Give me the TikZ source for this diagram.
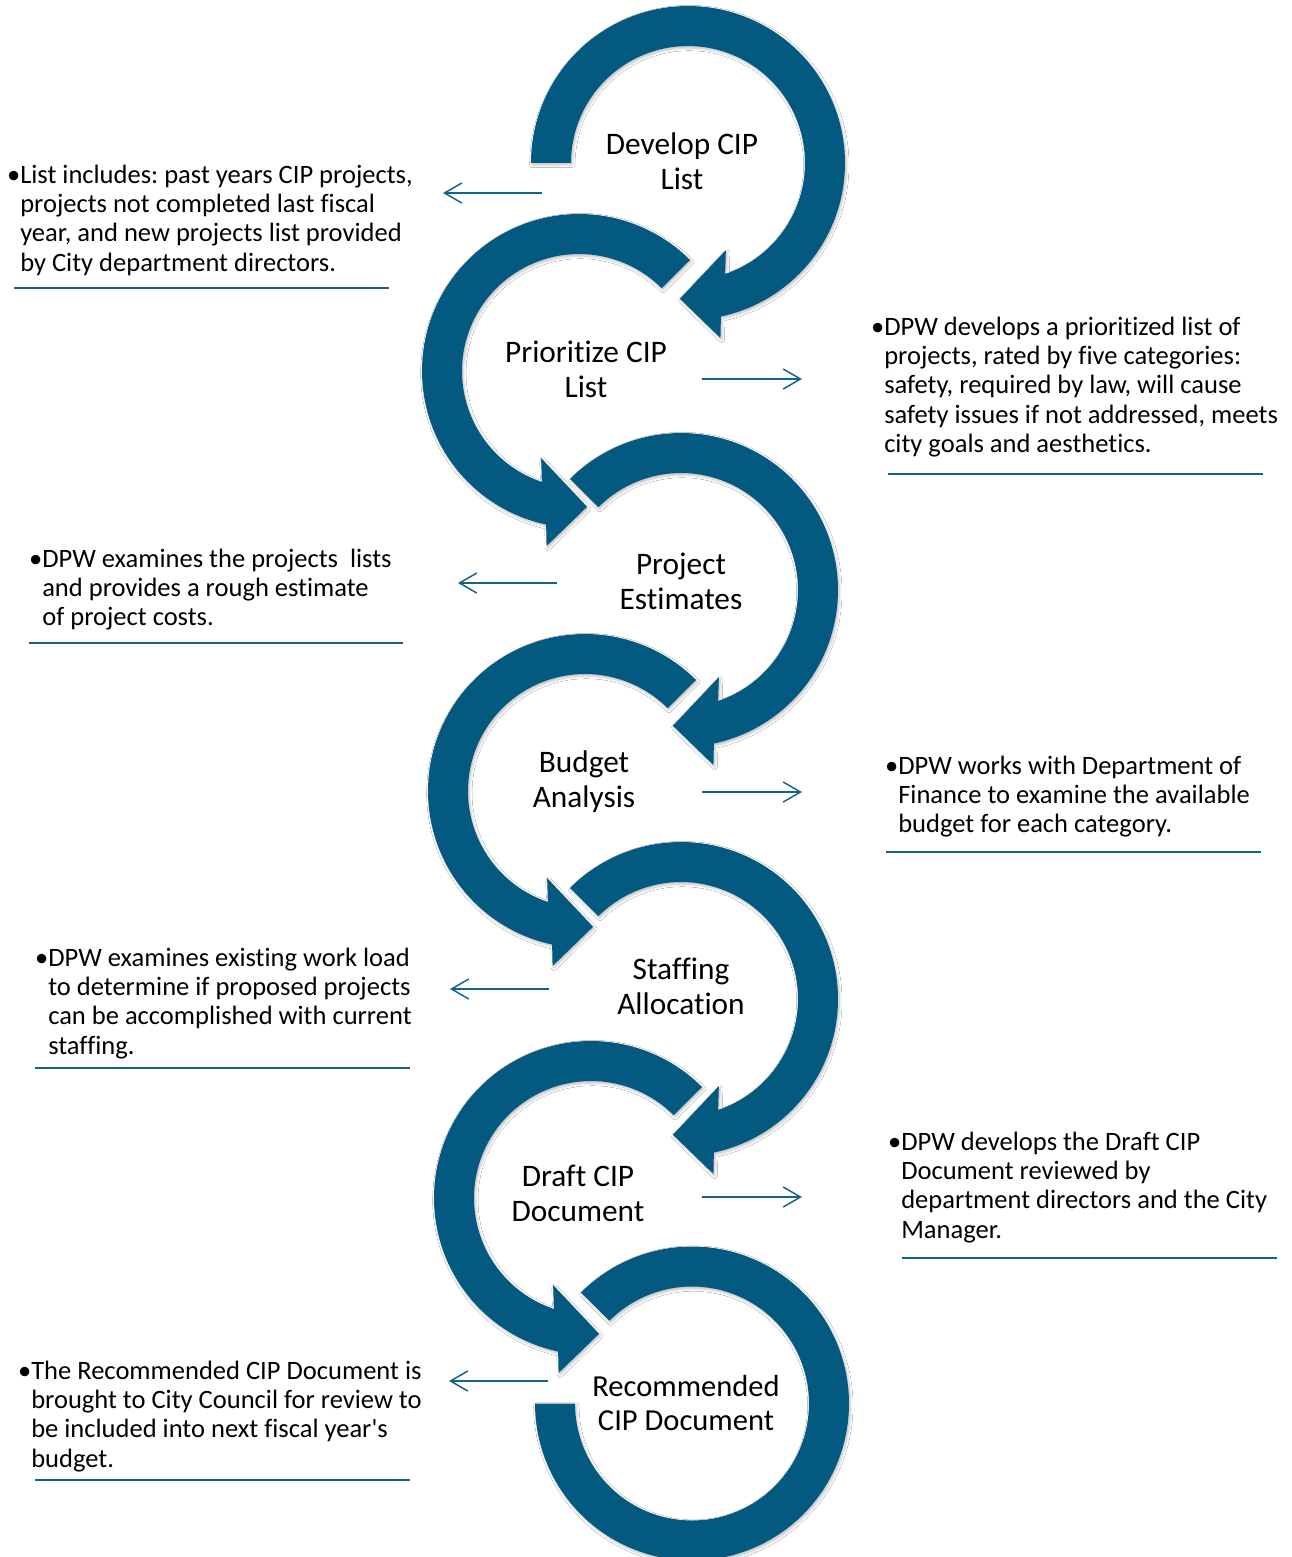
\documentclass[tikz,border=0pt]{standalone}
\usepackage{fontspec}
\setmainfont{Carlito}[Ligatures={TeX,NoCommon}]
\frenchspacing
\usetikzlibrary{arrows.meta,shadows.blur}
\definecolor{ringblue}{RGB}{3,89,128}
\definecolor{lineblue}{RGB}{20,98,138}
\begin{document}
\begin{tikzpicture}[x=0.75pt,y=-0.75pt,
  ringshape/.style={fill=ringblue, blur shadow={shadow xshift=1pt, shadow yshift=-1.5pt, shadow blur radius=2pt, shadow opacity=25}},
  conn/.style={draw=lineblue, line width=1.1pt, -{Straight Barb[length=13pt,width=15pt]}},
  underl/.style={draw=lineblue, line width=1.5pt},
  sidetext/.style={anchor=base west, inner sep=0pt, font=\fontsize{19.9}{22.1}\selectfont},
  stagetext/.style={inner sep=0pt, align=center, font=\fontsize{23.5}{26.2}\selectfont}]
\fill[white] (0,0) rectangle (1292,1557);
\path[use as bounding box] (0,0) rectangle (1292,1557);

% ---- ring 1 (right, from left flat end, clockwise)
\begin{scope}[shift={(688,163)}]
\fill[ringshape] plot[variable=\t,domain=0:1,samples=110] ({157*cos(180+258*\t)},{157*sin(180+258*\t)})
  -- (439.5:178) -- (453.4:136) -- (426.5:95)
  -- plot[variable=\t,domain=0:1,samples=110] ({117*cos(431.5-251.5*\t)},{117*sin(431.5-251.5*\t)}) -- cycle;
\end{scope}
% ---- ring 2 (left)
\begin{scope}[shift={(579,371)}]
\fill[ringshape] plot[variable=\t,domain=0:1,samples=110] ({157*cos(-45-213*\t)},{157*sin(-45-213*\t)})
  -- (-259.5:178) -- (-273.4:136) -- (-246.5:95)
  -- plot[variable=\t,domain=0:1,samples=110] ({117*cos(-251.5+206.5*\t)},{117*sin(-251.5+206.5*\t)}) -- cycle;
\end{scope}
% ---- ring 3 (right)
\begin{scope}[shift={(681,590)}]
\fill[ringshape] plot[variable=\t,domain=0:1,samples=110] ({157*cos(225+213*\t)},{157*sin(225+213*\t)})
  -- (439.5:178) -- (453.4:136) -- (426.5:95)
  -- plot[variable=\t,domain=0:1,samples=110] ({117*cos(431.5-206.5*\t)},{117*sin(431.5-206.5*\t)}) -- cycle;
\end{scope}
% ---- ring 4 (left)
\begin{scope}[shift={(585,791)}]
\fill[ringshape] plot[variable=\t,domain=0:1,samples=110] ({157*cos(-45-213*\t)},{157*sin(-45-213*\t)})
  -- (-259.5:178) -- (-273.4:136) -- (-246.5:95)
  -- plot[variable=\t,domain=0:1,samples=110] ({117*cos(-251.5+206.5*\t)},{117*sin(-251.5+206.5*\t)}) -- cycle;
\end{scope}
% ---- ring 5 (right)
\begin{scope}[shift={(681,999)}]
\fill[ringshape] plot[variable=\t,domain=0:1,samples=110] ({157*cos(225+213*\t)},{157*sin(225+213*\t)})
  -- (439.5:178) -- (453.4:136) -- (426.5:95)
  -- plot[variable=\t,domain=0:1,samples=110] ({117*cos(431.5-206.5*\t)},{117*sin(431.5-206.5*\t)}) -- cycle;
\end{scope}
% ---- ring 6 (left)
\begin{scope}[shift={(591,1198)}]
\fill[ringshape] plot[variable=\t,domain=0:1,samples=110] ({157*cos(-45-213*\t)},{157*sin(-45-213*\t)})
  -- (-259.5:178) -- (-273.4:136) -- (-246.5:95)
  -- plot[variable=\t,domain=0:1,samples=110] ({117*cos(-251.5+206.5*\t)},{117*sin(-251.5+206.5*\t)}) -- cycle;
\end{scope}
% ---- ring 7 (right, no head, ends flat at left)
\begin{scope}[shift={(692,1403.5)}]
\fill[ringshape] plot[variable=\t,domain=0:1,samples=130] ({157*cos(225+315*\t)},{157*sin(225+315*\t)})
  -- plot[variable=\t,domain=0:1,samples=130] ({117*cos(540-315*\t)},{117*sin(540-315*\t)}) -- cycle;
\end{scope}

% ---- stage labels
\node[stagetext] (s1) at (682,161) {Develop CIP\\List};
\node[stagetext] (s2) at (586,369) {Prioritize CIP\\List};
\node[stagetext] (s3) at (681,581) {Project\\Estimates};
\node[stagetext] (s4) at (584,782) {Budget\\Analysis};
\node[stagetext] (s5) at (681,986) {Staffing\\Allocation};
\node[stagetext] (s6) at (578,1193) {Draft CIP\\Document};
\node[stagetext, font=\fontsize{22.9}{24.8}\selectfont] (s7) at (686,1403) {Recommended\\CIP Document};

% ---- side descriptions
\node[sidetext] (d1) at (20,183) {\begin{tabular}[t]{@{}l@{}}\llap{•}List includes: past years CIP projects,\\projects not completed last fiscal\\year, and new projects list provided\\by City department directors.\end{tabular}};
\node[sidetext] (d2) at (884,335) {\begin{tabular}[t]{@{}l@{}}\llap{•}DPW develops a prioritized list of\\projects, rated by five categories:\\safety, required by law, will cause\\safety issues if not addressed, meets\\city goals and aesthetics.\end{tabular}};
\node[sidetext] (d3) at (42,567) {\begin{tabular}[t]{@{}l@{}}\llap{•}DPW examines the projects\ \ lists\\and provides a rough estimate\\of project costs.\end{tabular}};
\node[sidetext] (d4) at (898,774) {\begin{tabular}[t]{@{}l@{}}\llap{•}DPW works with Department of\\Finance to examine the available\\budget for each category.\end{tabular}};
\node[sidetext] (d5) at (48,966) {\begin{tabular}[t]{@{}l@{}}\llap{•}DPW examines existing work load\\to determine if proposed projects\\can be accomplished with current\\staffing.\end{tabular}};
\node[sidetext] (d6) at (901,1150) {\begin{tabular}[t]{@{}l@{}}\llap{•}DPW develops the Draft CIP\\Document reviewed by\\department directors and the City\\Manager.\end{tabular}};
\node[sidetext] (d7) at (31,1379) {\begin{tabular}[t]{@{}l@{}}\llap{•}The Recommended CIP Document is\\brought to City Council for review to\\be included into next fiscal year\textquotesingle s\\budget.\end{tabular}};

% ---- underlines
\coordinate (u1a) at (14,288);   \coordinate (u1b) at (389,288);
\coordinate (u2a) at (888,474);  \coordinate (u2b) at (1263,474);
\coordinate (u3a) at (29,643);   \coordinate (u3b) at (403,643);
\coordinate (u4a) at (886,852);  \coordinate (u4b) at (1261,852);
\coordinate (u5a) at (35,1068);  \coordinate (u5b) at (410,1068);
\coordinate (u6a) at (902,1258); \coordinate (u6b) at (1277,1258);
\coordinate (u7a) at (35,1480);  \coordinate (u7b) at (410,1480);
\foreach \i in {1,...,7} {\draw[underl] (u\i a) -- (u\i b);}

% ---- pointer arrows
\coordinate (p1a) at (542,193);  \coordinate (p1b) at (443,193);
\coordinate (p2a) at (702,379);  \coordinate (p2b) at (802,379);
\coordinate (p3a) at (557,583);  \coordinate (p3b) at (458,583);
\coordinate (p4a) at (702,792);  \coordinate (p4b) at (802,792);
\coordinate (p5a) at (549,989);  \coordinate (p5b) at (450,989);
\coordinate (p6a) at (702,1197); \coordinate (p6b) at (802,1197);
\coordinate (p7a) at (548,1381); \coordinate (p7b) at (449,1381);
\foreach \i in {1,...,7} {\draw[conn] (p\i a) -- (p\i b);}
\end{tikzpicture}
\end{document}
